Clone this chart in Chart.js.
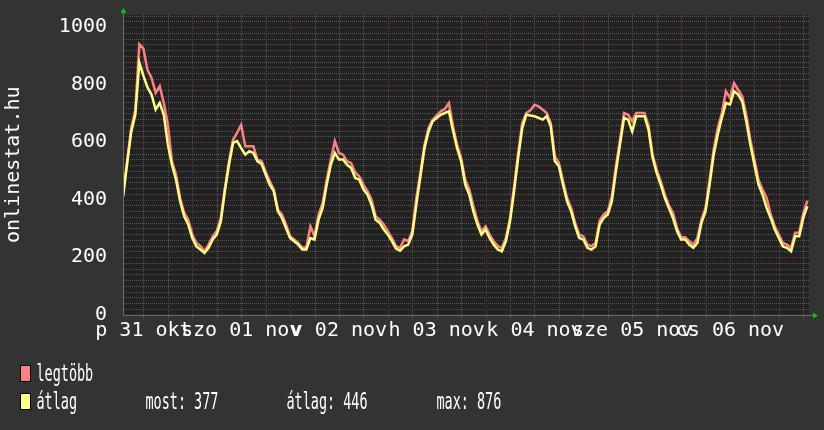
<!DOCTYPE html>
<html><head><meta charset="utf-8">
<script src="https://cdn.jsdelivr.net/npm/chart.js@4/dist/chart.umd.min.js"></script>
<style>html,body{margin:0;padding:0;background:#333333;}canvas{display:block}</style>
</head><body>
<div style="width:824px;height:430px"><canvas id="c" width="824" height="430"></canvas></div>
<script>
// hours since 2014-10-31 00:00
const hours = [7,8,9,10,11,12,13,14,15,16,17,18,19,20,21,22,23,24,25,26,27,28,29,30,31,32,33,34,35,36,37,38,39,40,
41,42,43,44,45,46,47,48,49,50,51,52,53,54,55,56,57,58,59,60,61,62,63,64,65,66,67,68,69,70,71,72,73,74,
75,76,77,78,79,80,81,82,83,84,85,86,87,88,89,90,91,92,93,94,95,96,97,98,99,100,101,102,103,104,105,106,107,
108,109,110,111,112,113,114,115,116,117,118,119,120,121,122,123,124,125,126,127,128,129,130,131,132,133,134,135,
136,137,138,139,140,141,142,143,144,145,146,147,148,149,150,151,152,153,154,155,156,157,158,159,160,161,162,163,
164,165,166,167,168,169,170,171,172,173,174,175];
const avgValues = [410,525,635,695,876,830,790,765,713,736,695,591,521,469,394,342,313,266,237,226,214,232,261,278,324,429,521,597,603,579,556,568,562,533,
524,487,452,429,359,336,301,266,255,243,226,226,266,261,330,371,452,521,562,539,539,521,510,475,469,435,417,382,330,319,296,278,255,229,
222,237,243,278,382,481,579,637,672,684,695,701,707,640,579,533,452,417,359,313,278,296,266,243,226,220,255,324,429,545,649,695,692,
690,684,678,690,655,533,516,452,394,359,307,266,261,232,226,237,313,336,348,394,498,591,684,678,637,690,690,690,
643,545,493,452,406,370,336,290,261,261,243,232,249,319,359,452,556,626,684,736,730,777,765,742,672,591,521,452,
417,371,336,296,266,237,232,220,272,272,336,377];
const maxValues = [420,535,650,710,940,925,850,823,771,794,736,660,533,487,406,354,330,278,249,238,220,243,272,290,336,440,533,608,632,660,585,585,585,539,
534,498,464,435,365,348,313,272,261,249,232,234,307,272,348,388,469,539,603,562,556,533,527,493,481,452,429,400,342,330,313,290,266,238,
232,261,255,290,406,493,591,649,678,693,707,715,736,655,591,545,469,435,377,325,290,307,278,255,238,232,266,336,446,562,666,701,710,
730,724,713,701,666,551,527,464,406,371,319,278,272,243,238,249,327,348,359,411,516,608,701,695,672,701,701,701,
658,556,504,464,417,380,354,301,269,269,255,243,266,330,371,469,574,649,701,777,753,805,782,759,695,608,539,469,
435,406,348,307,278,249,243,232,284,284,353,396];
const dayLabels = ['p 31 okt','szo 01 nov','v 02 nov','h 03 nov','k 04 nov','sze 05 nov','cs 06 nov'];
const yTickValues = [0,200,400,600,800,1000];
const legendNames = ['legtöbb','átlag'];
const legendStats = ['most: 377','átlag: 446','max: 876'];

const X_MIN = 7.23, X_MAX = 175.4, Y_MAX = 1042;
const RED = '#ff8080', YEL = '#ffff80';
const GRID_MINOR = '#555555', GRID_MAJOR = '#703535';
const FONT = '"DejaVu Sans Mono", monospace';

const rrdPlugin = {
  id: 'rrd',
  beforeDraw(chart) {
    const {ctx, chartArea: a, scales: {x, y}} = chart;
    ctx.save();
    ctx.fillStyle = '#333333';
    ctx.fillRect(0, 0, chart.width, chart.height);
    ctx.fillStyle = '#222222';
    ctx.fillRect(a.left, a.top, a.right - a.left, a.bottom - a.top);
    ctx.lineWidth = 1;
    ctx.setLineDash([1, 1]);
    for (let v = 20; v <= Y_MAX; v += 20) {
      const py = Math.round(y.getPixelForValue(v)) + 0.5;
      ctx.strokeStyle = (v % 200 === 0) ? GRID_MAJOR : GRID_MINOR;
      ctx.beginPath(); ctx.moveTo(a.left, py); ctx.lineTo(a.right, py); ctx.stroke();
    }
    for (let h = Math.ceil(X_MIN / 6) * 6; h <= X_MAX; h += 6) {
      const px = Math.round(x.getPixelForValue(h)) + 0.5;
      ctx.strokeStyle = (h % 24 === 0) ? GRID_MAJOR : GRID_MINOR;
      ctx.beginPath(); ctx.moveTo(px, a.top); ctx.lineTo(px, a.bottom); ctx.stroke();
    }
    ctx.setLineDash([]);
    for (let h = Math.ceil(X_MIN / 6) * 6; h <= X_MAX; h += 6) {
      const px = Math.round(x.getPixelForValue(h)) + 0.5;
      ctx.strokeStyle = (h % 24 === 0) ? '#a04040' : '#666666';
      ctx.beginPath(); ctx.moveTo(px, a.bottom); ctx.lineTo(px, a.bottom + 3); ctx.stroke();
    }
    ctx.restore();
  },
  afterDatasetsDraw(chart) {
    const {ctx, chartArea: a} = chart;
    ctx.save();
    ctx.strokeStyle = '#6a6a6a';
    ctx.lineWidth = 1;
    const by = Math.round(a.bottom) + 0.5, lx = Math.round(a.left) - 0.5;
    ctx.beginPath(); ctx.moveTo(lx, by); ctx.lineTo(a.right + 4, by); ctx.stroke();
    ctx.beginPath(); ctx.moveTo(lx, by); ctx.lineTo(lx, a.top - 3); ctx.stroke();
    ctx.fillStyle = '#00cc00';
    ctx.beginPath(); ctx.moveTo(lx - 3, 13); ctx.lineTo(lx + 3, 13); ctx.lineTo(lx, 8); ctx.closePath(); ctx.fill();
    ctx.beginPath(); ctx.moveTo(a.right + 4, by - 3); ctx.lineTo(a.right + 4, by + 3); ctx.lineTo(a.right + 9, by); ctx.closePath(); ctx.fill();
    const sw = [[RED, 365], [YEL, 393]];
    sw.forEach(([c, t]) => {
      ctx.fillStyle = c; ctx.fillRect(20, t, 10, 16);
      ctx.strokeStyle = '#000'; ctx.strokeRect(20.5, t + 0.5, 10, 16);
    });
    ctx.fillStyle = '#ffffff';
    ctx.font = '23px ' + FONT;
    ctx.textBaseline = 'alphabetic';
    const sx = 0.585;
    const txt = (s, x0, yb) => { ctx.save(); ctx.translate(x0, yb); ctx.scale(sx, 1); ctx.fillText(s, 0, 0); ctx.restore(); };
    txt(legendNames[0], 36.5, 381);
    txt(legendNames[1], 36.5, 408.5);
    txt(legendStats[0], 145.5, 408.5);
    txt(legendStats[1], 286.5, 408.5);
    txt(legendStats[2], 436.5, 408.5);
    ctx.restore();
  }
};

new Chart(document.getElementById('c'), {
  type: 'line',
  data: {
    labels: hours,
    datasets: [
      { label: legendNames[0], data: hours.map((h, i) => ({x: h, y: maxValues[i]})), borderColor: RED, borderWidth: 2.5, pointRadius: 0, tension: 0, order: 2 },
      { label: legendNames[1], data: hours.map((h, i) => ({x: h, y: avgValues[i]})), borderColor: YEL, borderWidth: 2.5, pointRadius: 0, tension: 0, order: 1 }
    ]
  },
  options: {
    responsive: false, animation: false, devicePixelRatio: 1,
    layout: { padding: { left: 0, right: 15, top: 15, bottom: 0 } },
    plugins: { legend: { display: false }, tooltip: { enabled: false } },
    scales: {
      x: {
        type: 'linear', min: X_MIN, max: X_MAX,
        grid: { display: false, drawTicks: false }, border: { display: false },
        afterBuildTicks(s) {
          const t = [];
          for (let h = Math.ceil(X_MIN / 6) * 6; h <= X_MAX; h += 6) t.push({value: h});
          s.ticks = t;
        },
        afterFit(s) { s.height = 115.5; s.paddingLeft = 0; s.paddingRight = 0; },
        ticks: {
          autoSkip: false, maxRotation: 0, minRotation: 0, padding: 4, color: '#ffffff',
          font: { family: FONT, size: 20 },
          callback: (v) => (v % 24 === 12) ? dayLabels[(v - 12) / 24] : ''
        }
      },
      y: {
        min: 0, max: Y_MAX,
        grid: { display: false, drawTicks: false }, border: { display: false },
        afterBuildTicks(s) { s.ticks = yTickValues.map(v => ({value: v})); },
        afterFit(s) { s.width = 124; s.paddingTop = 0; s.paddingBottom = 0; },
        ticks: { padding: 17, color: '#ffffff', font: { family: FONT, size: 20 }, callback: (v) => String(v) },
        title: { display: true, text: 'onlinestat.hu', color: '#ffffff', font: { family: FONT, size: 20 }, padding: { top: 2, bottom: 0 } }
      }
    }
  },
  plugins: [rrdPlugin]
});
</script>
</body></html>
